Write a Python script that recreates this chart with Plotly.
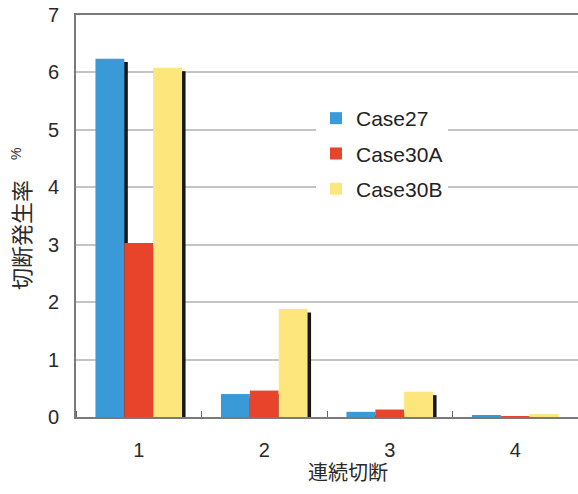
import plotly.graph_objects as go

# 連続切断回数ごとの切断発生率 (%)
categories = [1, 2, 3, 4]
case27 = [6.24, 0.40, 0.09, 0.02]
case30a = [3.03, 0.46, 0.13, 0.01]
case30b = [6.08, 1.88, 0.44, 0.05]

series_names = ["Case27", "Case30A", "Case30B"]
series_values = [case27, case30a, case30b]
colors = ["#3a9ad8", "#e8432b", "#fde67c"]

bar_w = 0.23
offsets = [-0.345, -0.115, 0.115]
shadow_dx = 0.028
shadow_drop = 0.06

fig = go.Figure()
for i, (name, vals, col) in enumerate(zip(series_names, series_values, colors)):
    # drop shadow behind each bar
    fig.add_trace(go.Bar(
        x=categories, y=vals, base=-shadow_drop,
        width=bar_w, offset=offsets[i] + shadow_dx,
        marker=dict(color="#161616", line=dict(width=0)),
        showlegend=False, hoverinfo="skip",
    ))
    fig.add_trace(go.Bar(
        x=categories, y=vals, name=name,
        width=bar_w, offset=offsets[i],
        marker=dict(color=col, line=dict(width=0)),
        legendgroup=name,
    ))

fig.update_layout(
    width=578, height=494,
    margin=dict(l=76, r=0, t=15, b=77),
    barmode="overlay",
    plot_bgcolor="white", paper_bgcolor="white",
    font=dict(family="Liberation Sans, Arial, sans-serif", size=20, color="#2a2a2a"),
    showlegend=True,
    legend=dict(
        x=(316 - 76) / 502, y=(417 - 98) / 402,
        xanchor="left", yanchor="top",
        bgcolor="white", borderwidth=0,
        font=dict(size=21, color="#222"),
        tracegroupgap=5,
    ),
    xaxis=dict(
        range=[0.5, 4.5],
        tickmode="array", tickvals=categories, ticktext=[str(c) for c in categories],
        ticks="", showgrid=False, zeroline=False,
        showline=True, linecolor="#7a7a7a", linewidth=2, mirror=True,
        ticklabelstandoff=14,
        minor=dict(tick0=0.5, dtick=1, ticks="inside", ticklen=6,
                   tickcolor="#666", tickwidth=1, showgrid=False),
    ),
    yaxis=dict(
        range=[0, 7], dtick=1,
        showgrid=True, gridcolor="#c4c4c4", gridwidth=1.5,
        zeroline=False, ticks="",
        showline=True, linecolor="#7a7a7a", linewidth=2,
        ticklabelstandoff=11,
    ),
    annotations=[
        # y-axis title, with a smaller unit mark above it
        dict(text="切断発生率",
             xref="paper", yref="paper",
             x=(20 - 76) / 502, y=(417 - 235) / 402,
             xanchor="center", yanchor="middle",
             showarrow=False, textangle=-90,
             font=dict(family="Noto Sans CJK JP", size=22, color="#2a2a2a")),
        dict(text="%",
             xref="paper", yref="paper",
             x=(16 - 76) / 502, y=(417 - 154) / 402,
             xanchor="center", yanchor="middle",
             showarrow=False, textangle=-90,
             font=dict(family="Liberation Sans, Arial, sans-serif", size=14, color="#2a2a2a")),
        dict(text="連続切断", xref="paper", yref="paper",
             x=(348 - 76) / 502, y=(417 - 471) / 402,
             xanchor="center", yanchor="middle", showarrow=False,
             font=dict(family="Noto Sans CJK JP", size=20, color="#2a2a2a")),
    ],
)

fig.write_html("out.html")
